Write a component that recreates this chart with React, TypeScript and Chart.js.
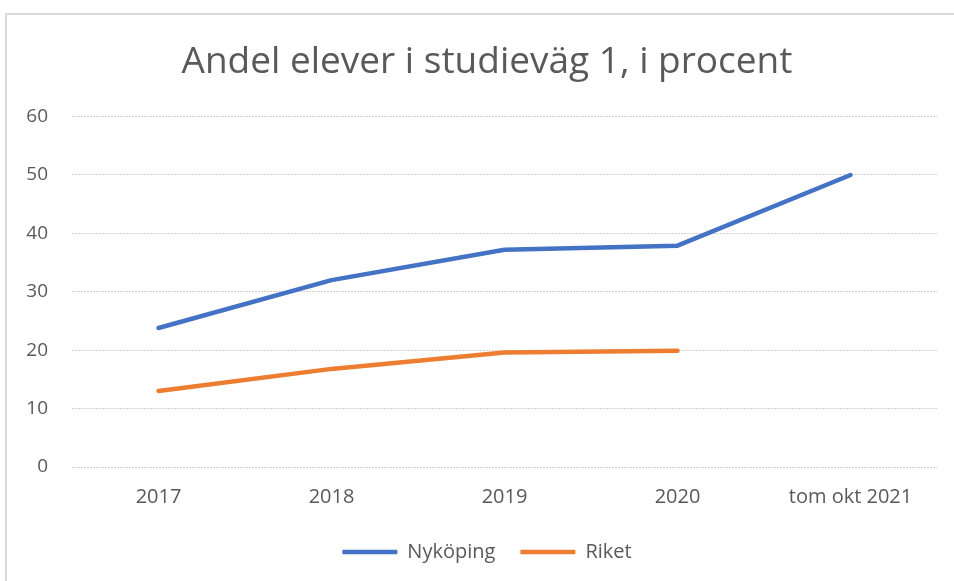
import React, { useEffect, useRef } from "react";
import { Chart, registerables } from "chart.js";

Chart.register(...registerables);

const categories = ["2017", "2018", "2019", "2020", "tom okt 2021"];
const nykoping = [23.8, 32.0, 37.2, 37.9, 50.0];
const riket = [13.0, 16.8, 19.6, 19.9, null];
const yTicks = [0, 10, 20, 30, 40, 50, 60];

const FONT = "'Open Sans', 'Liberation Sans', sans-serif";
const TEXT = "#595959";

export default function App() {
  const ref = useRef<HTMLCanvasElement | null>(null);

  useEffect(() => {
    if (!ref.current) return;
    const chart = new Chart(ref.current, {
      type: "line",
      data: {
        labels: categories,
        datasets: [
          {
            label: "Nyköping",
            data: nykoping,
            borderColor: "#4472C4",
            backgroundColor: "#4472C4",
            borderWidth: 4.5,
            pointRadius: 0,
            borderCapStyle: "round",
            borderJoinStyle: "round",
            tension: 0,
          },
          {
            label: "Riket",
            data: riket,
            borderColor: "#ED7D31",
            backgroundColor: "#ED7D31",
            borderWidth: 4.5,
            pointRadius: 0,
            borderCapStyle: "round",
            borderJoinStyle: "round",
            tension: 0,
          },
        ],
      },
      options: {
        animation: false,
        responsive: false,
        maintainAspectRatio: false,
        layout: { padding: { left: 0, right: 0, top: 40, bottom: 9 } },
        plugins: {
          title: {
            display: true,
            text: "Andel elever i studieväg 1, i procent",
            color: TEXT,
            font: { family: FONT, size: 37, weight: "normal" },
            padding: { top: 0, bottom: 32.2 },
          },
          legend: {
            position: "bottom",
            labels: {
              usePointStyle: true,
              pointStyle: "line",
              pointStyleWidth: 55,
              color: TEXT,
              font: { family: FONT, size: 20 },
              padding: 25,
            },
          },
          tooltip: { enabled: false },
        },
        scales: {
          x: {
            offset: true,
            grid: { display: false, drawTicks: false },
            border: { display: false },
            ticks: {
              color: TEXT,
              font: { family: FONT, size: 20 },
              padding: 18,
              maxRotation: 0,
            },
            afterFit: (scale: any) => {
              scale.height = 50;
            },
          },
          y: {
            min: 0,
            max: 60,
            afterBuildTicks: (scale: any) => {
              scale.ticks = yTicks.map((v) => ({ value: v }));
            },
            afterFit: (scale: any) => {
              scale.width = 72;
            },
            grid: {
              color: "#d0d0d0",
              lineWidth: 1,
              drawTicks: false,
            },
            border: { display: false, dash: [2, 1] },
            ticks: {
              color: TEXT,
              font: { family: FONT, size: 19 },
              padding: 24,
            },
          },
          yRightSpace: {
            position: "right",
            display: true,
            grid: { display: false, drawTicks: false },
            border: { display: false },
            ticks: { display: false },
            afterFit: (scale: any) => {
              scale.width = 37;
            },
          },
        },
      },
    });
    return () => chart.destroy();
  }, []);

  return (
    <div style={{ position: "fixed", left: 0, top: 0, width: 954, height: 581, background: "#fff", overflow: "hidden" }}>
      <div
        style={{
          position: "absolute",
          left: 5,
          top: 13,
          width: 980,
          height: 600,
          borderLeft: "2px solid #d9d9d9",
          borderTop: "2px solid #d9d9d9",
          boxSizing: "border-box",
        }}
      />
      <canvas ref={ref} width={974} height={581} style={{ position: "absolute", left: 0, top: 0 }} />
    </div>
  );
}
